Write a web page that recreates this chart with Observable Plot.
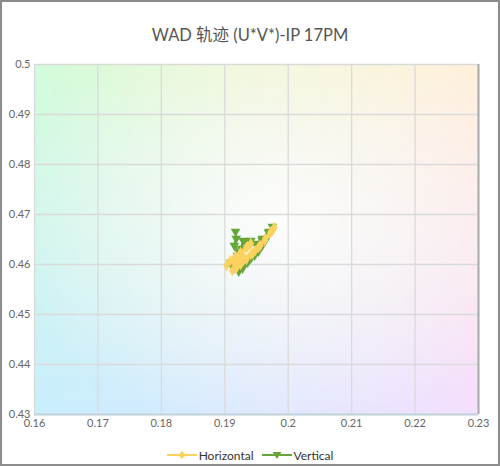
<!DOCTYPE html>
<html><head><meta charset="utf-8">
<script src="https://cdn.jsdelivr.net/npm/d3@7"></script>
<script src="https://cdn.jsdelivr.net/npm/@observablehq/plot@0.6"></script>
<style>
html,body{margin:0;padding:0;background:#fff;}
#wrap{position:relative;width:500px;height:466px;font-family:Lato,"Noto Sans CJK SC",sans-serif;overflow:hidden;}
#border{position:absolute;left:0;top:0;width:500px;height:466px;box-sizing:border-box;border:2px solid #8c8c8c;pointer-events:none;z-index:5;}
#title{position:absolute;left:0;top:24px;width:500px;text-align:center;font-size:16.5px;line-height:22px;color:#555;}
#chart{position:absolute;left:0;top:52px;}
#legend{position:absolute;left:0;top:446px;width:500px;display:flex;justify-content:center;align-items:center;font-size:12px;color:#333;}
#legend .item{display:flex;align-items:center;margin:0 4px;}
#legend svg{margin-right:2px;}
</style></head>
<body>
<div id="wrap">
<div id="title">WAD 轨迹 (U*V*)-IP 17PM</div>
<div id="chart"></div>
<div id="legend"></div>
<div id="border"></div>
</div>
<script>
const xTicks = [0.16,0.17,0.18,0.19,0.2,0.21,0.22,0.23];
const yTicks = [0.43,0.44,0.45,0.46,0.47,0.48,0.49,0.5];
const seriesNames = ["Horizontal","Vertical"];
const seriesColors = ["#fdd15f","#65a63a"];
const horizontalX = [0.1903,0.1909,0.1917,0.1925,0.1934,0.1941,0.1936,0.1925,0.1915,0.1922,0.1931,0.1941,0.1948,0.1956,0.1964,0.1972,0.1978,0.1974,0.1963,0.1953,0.1944,0.1934,0.1925,0.1918,0.1912];
const horizontalY = [0.4598,0.4608,0.4616,0.4624,0.4634,0.4642,0.4636,0.4620,0.4604,0.4604,0.4612,0.4620,0.4628,0.4638,0.4652,0.4664,0.4674,0.4666,0.4648,0.4634,0.4622,0.4610,0.4600,0.4592,0.4588];
const verticalX = [0.1917,0.1918,0.1915,0.1922,0.1909,0.1914,0.1922,0.1928,0.1936,0.1941,0.1947,0.1953,0.1959,0.1964,0.1959,0.1969,0.1975,0.1970,0.1959,0.1948,0.1941,0.1934,0.1929,0.1926,0.1920];
const verticalY = [0.4666,0.4652,0.4638,0.4624,0.4604,0.4592,0.4586,0.4592,0.4604,0.4612,0.4618,0.4626,0.4638,0.4648,0.4652,0.4664,0.4676,0.4666,0.4648,0.4642,0.4648,0.4644,0.4648,0.4632,0.4618];

const hData = horizontalX.map((x,i)=>({x, y: horizontalY[i]}));
const vData = verticalX.map((x,i)=>({x, y: verticalY[i]}));

// background tint (chromaticity-like), hue-preserving interpolation
const cTL = "#d2fcdc", cTR = "#fff0dc", cBL = "#c9eefd", cBR = "#f4dffc";
const topI = d3.interpolateHcl(cTL, cTR), botI = d3.interpolateHcl(cBL, cBR);
function bg(x,y){
  const u = (x-0.16)/0.07, v = (0.5-y)/0.07;
  const c = d3.interpolateLab(topI(u), botI(u))(v);
  const du=(u-0.55)/0.65, dv=(v-0.45)/0.65;
  const w = Math.min(1, 0.15 + 0.9*Math.sqrt(du*du+dv*dv));
  return d3.interpolateRgb("#ffffff", c)(w);
}
const fmt = d => String(+d.toFixed(2));

const plot = Plot.plot({
  width: 500, height: 380,
  marginLeft: 34, marginRight: 22, marginTop: 12, marginBottom: 18,
  style: {fontFamily: "Lato, sans-serif", fontSize: "11px", color: "#666", background: "transparent"},
  x: {domain: [0.16,0.23], ticks: xTicks, tickFormat: fmt, label: null, tickSize: 0, tickPadding: 5},
  y: {domain: [0.43,0.5], ticks: yTicks, tickFormat: fmt, label: null, tickSize: 0, tickPadding: 4},
  color: {type: "identity"},
  marks: [
    Plot.raster({fill: bg, x1: 0.16, x2: 0.23, y1: 0.43, y2: 0.5, pixelSize: 2}),
    Plot.gridX(xTicks, {stroke: "#dadada", strokeOpacity: 1, strokeWidth: 1.3}),
    Plot.gridY(yTicks, {stroke: "#dadada", strokeOpacity: 1, strokeWidth: 1.3}),
    Plot.ruleX([0.23], {stroke: "#aaaaaa", strokeWidth: 2}),
    Plot.ruleY([0.43], {stroke: "#c2d3dc", strokeWidth: 2}),
    Plot.line(vData, {x: "x", y: "y", stroke: seriesColors[1], strokeWidth: 2.5, curve: "linear"}),
    Plot.dot(vData, {x: "x", y: "y", symbol: "triangle", rotate: 180, r: 3.6, fill: seriesColors[1], stroke: "none"}),
    Plot.line(hData, {x: "x", y: "y", stroke: seriesColors[0], strokeWidth: 3, curve: "linear"}),
    Plot.dot(hData, {x: "x", y: "y", symbol: "diamond", r: 3.5, fill: seriesColors[0], stroke: "none"})
  ]
});
document.getElementById("chart").appendChild(plot);

// legend
const lg = document.getElementById("legend");
const syms = ["diamond","triangleDown"];
seriesNames.forEach((name,i)=>{
  const item = document.createElement("div");
  item.className = "item";
  const marker = syms[i]==="diamond"
    ? `<path d="M15,5 L19,9 L15,13 L11,9 Z" fill="${seriesColors[i]}"/>`
    : `<path d="M10.5,6 L19.5,6 L15,13 Z" fill="${seriesColors[i]}"/>`;
  item.innerHTML = `<svg width="30" height="18"><line x1="0" x2="30" y1="9" y2="9" stroke="${seriesColors[i]}" stroke-width="2"/>${marker}</svg><span>${name}</span>`;
  lg.appendChild(item);
});
</script>
</body></html>
